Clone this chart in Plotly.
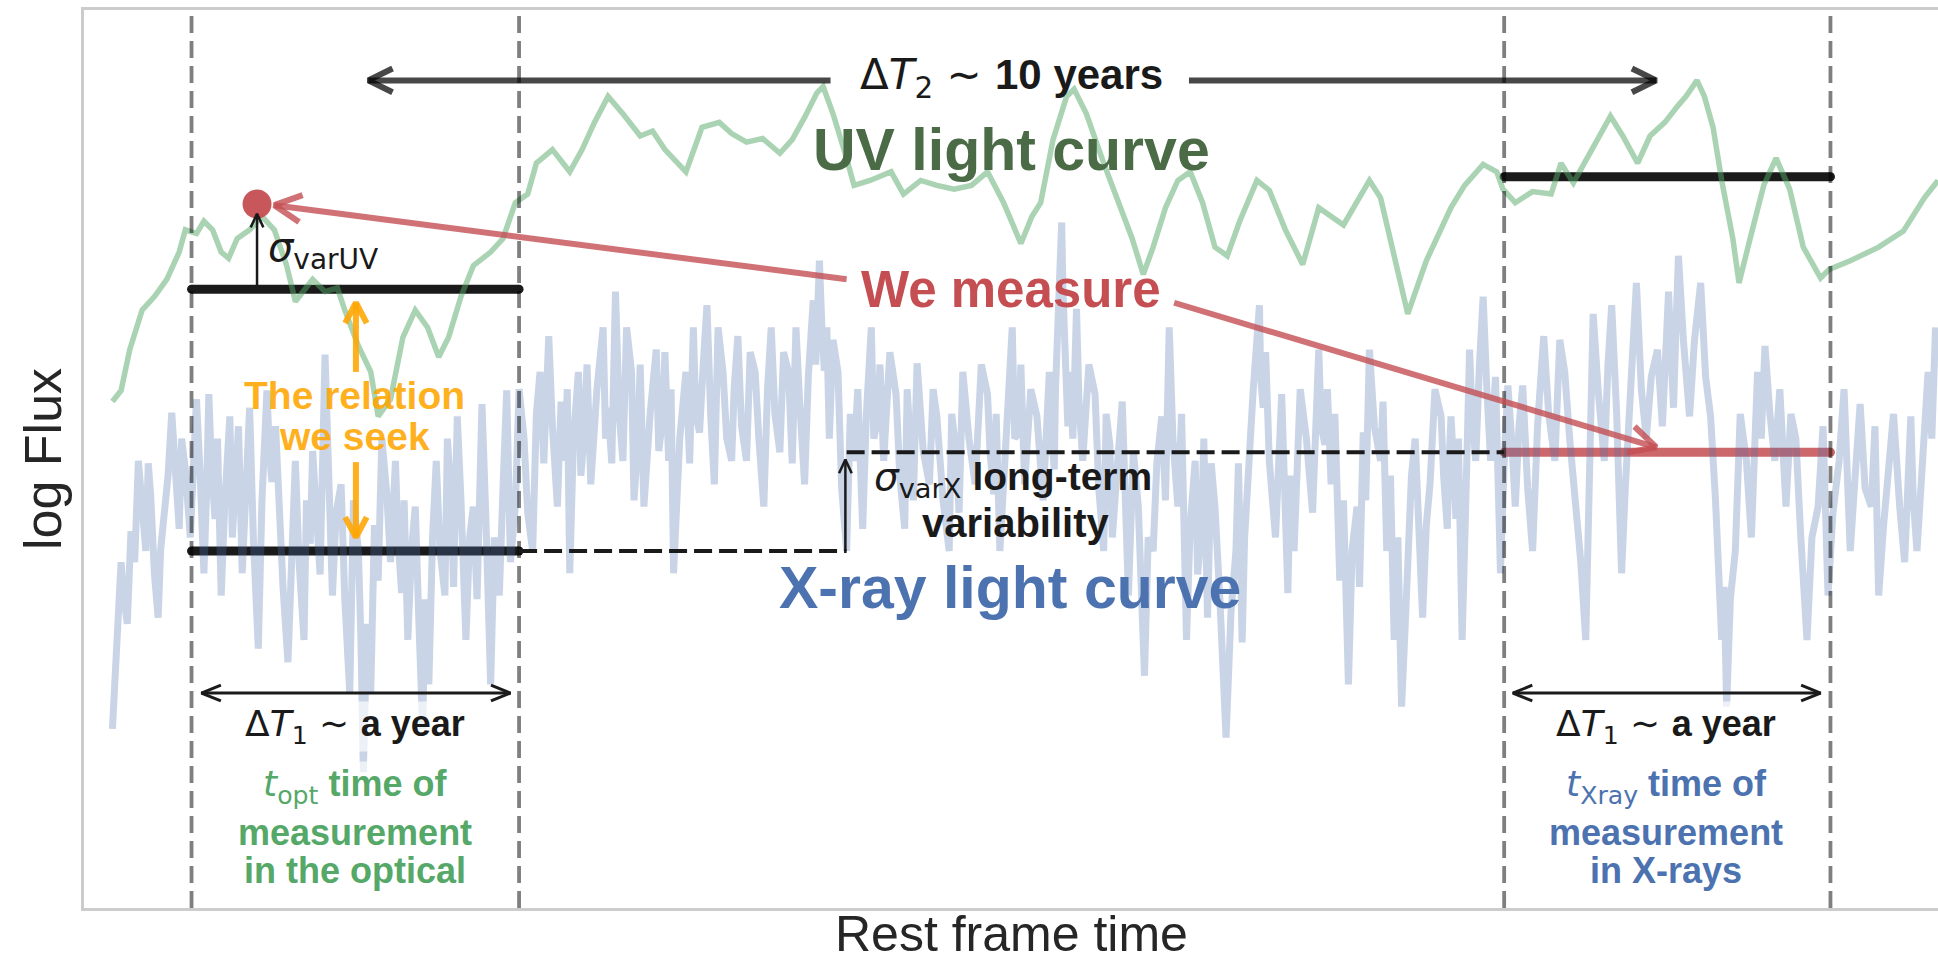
import numpy as np
import plotly.graph_objects as go

# ---------------- data (arbitrary time units / arbitrary log-flux units) ----------------
uv_time = [23, 30, 37, 47, 57, 67, 77, 82, 91, 97,
           104, 111, 117, 124, 134, 144, 154, 164, 171, 185,
           195, 205, 211, 222, 232, 238, 248, 258, 268, 278,
           287, 295, 305, 315, 329, 339, 349, 359, 366, 379,
           393, 403, 413, 424, 436, 450, 460, 470, 487, 500,
           514, 524, 536, 549, 563, 573, 583, 593, 598, 606,
           617, 623, 636, 653, 663, 677, 690, 704, 718, 731,
           744, 758, 767, 774, 784, 795, 801, 811, 825, 838,
           848, 857, 865, 875, 885, 895, 905, 915, 925, 935,
           949, 959, 972, 986, 999, 1019, 1040, 1049, 1071, 1086,
           1106, 1117, 1132, 1143, 1148, 1158, 1172, 1187, 1195, 1205,
           1222, 1235, 1245, 1257, 1267, 1279, 1290, 1296, 1305, 1311,
           1318, 1325, 1334, 1339, 1348, 1359, 1369, 1380, 1391, 1405,
           1412, 1429, 1452, 1472, 1489, 1500]
uv_flux = [410, 419, 452, 484, 495, 509, 531, 549, 546, 556,
           549, 531, 526, 542, 549, 560, 549, 520, 491, 509,
           499, 502, 484, 455, 434, 398, 412, 462, 484, 470,
           446, 462, 495, 520, 531, 542, 571, 578, 603, 614,
           596, 614, 636, 657, 643, 625, 629, 614, 596, 632,
           636, 627, 620, 623, 611, 622, 640, 660, 665, 643,
           607, 585, 589, 596, 578, 589, 585, 582, 585, 596,
           571, 538, 560, 571, 622, 657, 663, 643, 603, 567,
           542, 513, 535, 567, 589, 596, 571, 535, 528, 556,
           589, 581, 549, 521, 567, 553, 589, 575, 481, 524,
           567, 585, 602, 596, 582, 571, 580, 578, 603, 587,
           618, 641, 625, 603, 625, 636, 650, 657, 670, 657,
           632, 589, 542, 506, 542, 585, 607, 582, 535, 510,
           517, 524, 535, 548, 575, 589]

# X-ray light curve: main read-off points ...
xray_time = [23, 27, 32, 38, 44, 50, 54, 60, 65, 71,
             77, 82, 91, 97, 101, 106, 111, 118, 122, 128,
             134, 141, 148, 152, 158, 165, 171, 178, 183, 188,
             195, 201, 208, 215, 222, 226, 232, 238, 245, 252,
             257, 262, 268, 274, 279, 285, 292, 297, 302, 309,
             315, 322, 329, 336, 342, 349, 356, 363, 369, 376,
             383, 389, 393, 400, 404, 410, 420, 424, 430, 436,
             443, 448, 453, 463, 468, 473, 477, 487, 493, 498,
             504, 510, 517, 524, 529, 536, 543, 550, 556, 563,
             570, 576, 583, 590, 595, 599, 603, 610, 617, 623,
             630, 637, 642, 647, 657, 664, 668, 674, 684, 690,
             700, 705, 711, 721, 731, 736, 741, 751, 756, 761,
             771, 781, 785, 788, 791, 794, 798, 803, 808, 818,
             825, 830, 835, 845, 853, 858, 865, 872, 878, 885,
             892, 899, 904, 909, 915, 924, 932, 937, 942, 951,
             954, 959, 969, 974, 979, 989, 999, 1004, 1009, 1016,
             1023, 1030, 1035, 1040, 1049, 1054, 1060, 1066, 1072, 1077,
             1083, 1089, 1098, 1103, 1106, 1110, 1115, 1121, 1126, 1132,
             1138, 1146, 1152, 1158, 1164, 1172, 1181, 1190, 1198, 1207,
             1215, 1221, 1230, 1236, 1244, 1250, 1256, 1264, 1273, 1282,
             1286, 1290, 1299, 1308, 1316, 1325, 1329, 1336, 1345, 1354,
             1360, 1368, 1377, 1385, 1394, 1403, 1411, 1420, 1429, 1437,
             1446, 1452, 1460, 1469, 1478, 1483, 1492, 1498]
xray_flux = [145, 215, 253, 305, 362, 289, 333, 235, 315, 401,
             307, 355, 412, 271, 416, 315, 253, 398, 335, 271,
             405, 210, 419, 345, 307, 199, 362, 217, 295, 325,
             448, 253, 343, 174, 289, 110, 175, 265, 335, 362,
             255, 217, 325, 145, 181, 362, 253, 335, 398, 217,
             325, 408, 181, 253, 419, 325, 380, 289, 434, 463,
             325, 362, 271, 434, 375, 343, 470, 405, 499, 362,
             434, 375, 325, 452, 395, 362, 271, 434, 470, 385,
             488, 343, 434, 362, 463, 362, 434, 325, 470, 369,
             434, 470, 343, 492, 524, 435, 380, 434, 289, 362,
             307, 470, 395, 362, 416, 307, 385, 441, 343, 398,
             289, 375, 434, 343, 416, 335, 289, 470, 385, 343,
             398, 434, 355, 470, 555, 455, 434, 485, 362, 416,
             289, 375, 343, 253, 325, 188, 289, 398, 470, 325,
             217, 362, 305, 235, 325, 138, 289, 215, 362, 488,
             405, 362, 416, 255, 289, 380, 452, 375, 343, 265,
             181, 325, 385, 452, 362, 289, 217, 163, 289, 380,
             235, 343, 398, 307, 398, 315, 217, 452, 362, 495,
             362, 271, 423, 325, 423, 289, 463, 362, 434, 325,
             217, 481, 362, 488, 271, 398, 506, 380, 452, 499,
             405, 528, 398, 506, 398, 217, 163, 289, 362, 434,
             455, 362, 325, 380, 217, 325, 253, 362, 289, 408,
             325, 253, 362, 325, 398, 289, 434, 470]
# ... and the fast flickering in between them
xray_time_fine = [25, 30, 35, 41, 47, 52, 57, 62, 68, 74,
                  79, 86, 94, 99, 103, 108, 114, 120, 125, 131,
                  137, 144, 150, 155, 161, 168, 174, 180, 185, 191,
                  198, 204, 211, 218, 224, 229, 235, 241, 248, 254,
                  259, 265, 271, 276, 282, 288, 294, 299, 305, 312,
                  318, 325, 332, 339, 345, 352, 359, 366, 372, 379,
                  386, 391, 396, 402, 407, 415, 422, 427, 433, 439,
                  445, 450, 458, 465, 470, 475, 482, 490, 495, 501,
                  507, 513, 520, 526, 532, 539, 546, 553, 559, 566,
                  573, 579, 586, 592, 597, 601, 606, 613, 620, 626,
                  633, 639, 644, 652, 660, 666, 671, 679, 687, 695,
                  702, 708, 716, 726, 733, 738, 746, 753, 758, 766,
                  776, 783, 786, 789, 792, 796, 800, 805, 813, 821,
                  827, 832, 840, 849, 855, 861, 868, 875, 881, 888,
                  895, 901, 906, 912, 919, 928, 934, 939, 946, 952,
                  956, 964, 971, 976, 984, 994, 1001, 1006, 1012, 1019,
                  1026, 1032, 1037, 1044, 1051, 1057, 1063, 1069, 1074, 1080,
                  1086, 1093, 1100, 1104, 1108, 1112, 1118, 1123, 1129, 1135,
                  1142, 1149, 1155, 1161, 1168, 1176, 1185, 1194, 1202, 1211,
                  1218, 1225, 1233, 1240, 1247, 1253, 1260, 1268, 1277, 1284,
                  1288, 1294, 1303, 1312, 1320, 1327, 1332, 1340, 1349, 1357,
                  1364, 1372, 1381, 1389, 1398, 1407, 1415, 1424, 1433, 1441,
                  1449, 1456, 1464, 1473, 1480, 1487, 1495]
xray_flux_fine = [190, 280, 230, 280, 320, 360, 270, 290, 350, 340,
                  380, 300, 350, 330, 360, 380, 330, 300, 390, 340,
                  300, 330, 370, 390, 260, 300, 280, 330, 370, 270,
                  350, 320, 250, 330, 220, 230, 310, 380, 280, 300,
                  330, 290, 230, 250, 300, 290, 380, 260, 330, 300,
                  250, 320, 300, 340, 280, 420, 320, 400, 360, 390,
                  410, 420, 380, 350, 440, 420, 380, 360, 400, 470,
                  330, 440, 400, 370, 450, 420, 380, 360, 400, 440,
                  400, 470, 380, 420, 390, 450, 380, 420, 400, 450,
                  360, 410, 430, 440, 470, 470, 460, 340, 400, 420,
                  400, 380, 440, 450, 350, 420, 330, 370, 420, 330,
                  400, 320, 380, 440, 370, 400, 390, 380, 440, 420,
                  330, 380, 420, 500, 500, 390, 380, 410, 440, 340,
                  400, 300, 410, 370, 280, 300, 360, 330, 380, 400,
                  310, 270, 380, 360, 250, 240, 360, 300, 420, 430,
                  450, 300, 340, 350, 420, 320, 390, 420, 400, 330,
                  290, 260, 330, 390, 410, 350, 300, 230, 350, 300,
                  310, 420, 350, 350, 360, 380, 330, 400, 440, 420,
                  430, 360, 380, 390, 340, 390, 400, 460, 380, 280,
                  330, 420, 440, 400, 340, 470, 420, 430, 390, 450,
                  470, 460, 460, 430, 330, 260, 250, 400, 300, 380,
                  400, 420, 400, 300, 300, 390, 320, 420, 350, 340,
                  390, 310, 400, 280, 330, 360, 380]

# observation windows (start, end) and the mean levels within them
opt_window = [87, 352]
xray_window = [1149, 1413]
uv_level_opt = 501      # UV mean during optical window
x_level_opt = 289       # X-ray mean during optical window
uv_level_xray = 592     # UV mean during X-ray window
x_level_xray = 369      # X-ray mean during X-ray window
uv_point = [140, 570]   # single UV measurement
sigma_x_time = 617      # where the long-term variability step is marked

# ---------------- geometry ----------------
W, H = 1938, 964
MARGIN = dict(l=84, r=0, t=10, b=56, pad=0)
X_RANGE = [0, 1500]
Y_RANGE = [0, 727]
PX_X = (W - MARGIN['l'] - MARGIN['r']) / (X_RANGE[1] - X_RANGE[0])
PX_Y = (H - MARGIN['t'] - MARGIN['b']) / (Y_RANGE[1] - Y_RANGE[0])

BLACK = '#1a1a1a'
RED = 'rgba(196,78,82,0.8)'
ORANGE = 'rgba(255,165,0,0.88)'
GREEN_TXT = '#55a868'
BLUE_TXT = '#4c72b0'
FONT = 'Liberation Sans'

fig = go.Figure()


def seg(x, y, color, width, dash=None, opacity=1.0, caps=False):
    fig.add_trace(go.Scatter(
        x=x, y=y, mode='lines+markers' if caps else 'lines',
        line=dict(color=color, width=width, dash=dash),
        marker=dict(size=width, color=color) if caps else None,
        opacity=opacity, hoverinfo='skip', showlegend=False,
        connectgaps=False))


def head(tip, tail, length, half_angle):
    dx = (tail[0] - tip[0]) * PX_X
    dy = (tail[1] - tip[1]) * PX_Y
    n = np.hypot(dx, dy)
    ux, uy = dx / n, dy / n
    xs, ys = [], []
    for s in (1, -1):
        a = np.radians(half_angle) * s
        rx = ux * np.cos(a) - uy * np.sin(a)
        ry = ux * np.sin(a) + uy * np.cos(a)
        xs.append(tip[0] + rx * length / PX_X)
        ys.append(tip[1] + ry * length / PX_Y)
    return [xs[0], tip[0], xs[1]], [ys[0], tip[1], ys[1]]


def arrow(tail, tip, color, width, hl, ha, both=False):
    x = [tail[0], tip[0], None]
    y = [tail[1], tip[1], None]
    hx, hy = head(tip, tail, hl, ha)
    x += hx + [None]
    y += hy + [None]
    if both:
        hx, hy = head(tail, tip, hl, ha)
        x += hx
        y += hy
    seg(x, y, color, width)


# combine the two X-ray read-off sets in time order
xr_t = np.array(xray_time + xray_time_fine)
xr_f = np.array(xray_flux + xray_flux_fine)
order = np.argsort(xr_t, kind='stable')
xr_t, xr_f = xr_t[order], xr_f[order]

# mean-level bars (under the light curves)
seg(opt_window, [uv_level_opt] * 2, BLACK, 9, caps=True)
seg(opt_window, [x_level_opt] * 2, BLACK, 9, caps=True)
seg(xray_window, [uv_level_xray] * 2, BLACK, 9, caps=True)
seg(xray_window, [x_level_xray] * 2, '#c44e52', 9, caps=True, opacity=0.85)

# light curves
seg(xr_t, xr_f, 'rgba(76,114,176,0.3)', 7)
seg(uv_time, uv_flux, 'rgba(85,168,104,0.5)', 5.5)

# single UV measurement
fig.add_trace(go.Scatter(x=[uv_point[0]], y=[uv_point[1]], mode='markers',
                         marker=dict(size=29, color='#c44e52', opacity=0.95),
                         hoverinfo='skip', showlegend=False))

# window edges
for t in opt_window + xray_window:
    seg([t, t], Y_RANGE, 'rgba(0,0,0,0.5)', 3.8, dash='17px,8px')

# long-term variability guides
seg([opt_window[1], sigma_x_time], [x_level_opt] * 2, BLACK, 4, dash='18px,7px')
seg([sigma_x_time, xray_window[0]], [x_level_xray] * 2, BLACK, 4, dash='18px,7px')

# arrows
DT2 = 'rgba(0,0,0,0.72)'
arrow([604, 670], [230, 670], DT2, 6, 27, 26)
arrow([894, 670], [1272, 670], DT2, 6, 27, 26)
arrow([617, 509], [154, 569], RED, 6, 30, 27)
arrow([882, 490], [1272, 373], RED, 6, 30, 27)
arrow([220, 434], [220, 490], ORANGE, 6, 23, 28)
arrow([220, 361], [220, 300], ORANGE, 6, 23, 28)
arrow([uv_point[0], uv_level_opt], [uv_point[0], 562], BLACK, 2.5, 15, 25)
arrow([sigma_x_time - 1, x_level_opt], [sigma_x_time - 1, 363], BLACK, 2.5, 15, 25)
arrow([opt_window[0] + 8, 174], [opt_window[1] - 7, 174], BLACK, 3, 21, 22, both=True)
arrow([xray_window[0] + 7, 174], [xray_window[1] - 8, 174], BLACK, 3, 21, 22, both=True)


# ---------------- text ----------------
def math(s, size):
    return f'<span style="font-family:DejaVu Sans;font-size:{size}px">{s}</span>'


def label(t, f, text, size, color, xanchor='center', bg=None):
    fig.add_annotation(x=t, y=f, xref='x', yref='y', text=text, showarrow=False,
                       font=dict(family=FONT, size=size, color=color),
                       xanchor=xanchor, yanchor='middle',
                       bgcolor=bg if bg else 'rgba(0,0,0,0)', borderpad=1)


label(750, 672, math('Δ<i>T</i><sub>2</sub> ∼ ', 42) + '<b>10 years</b>', 42, BLACK)
label(750, 614, '<b>UV light curve</b>', 59, '#4a6b46')
label(750, 501, '<b>We measure</b>', 51, '#c44e52')
label(749, 259, '<b>X-ray light curve</b>', 59, BLUE_TXT)
label(147, 533, math('<i>σ</i><sub>varUV</sub>', 40), 40, BLACK, xanchor='left')
label(219, 415, '<b>The relation</b>', 39, ORANGE)
label(219, 382, '<b>we seek</b>', 39, ORANGE)
label(752, 347, math('<i>σ</i><sub>varX</sub>', 39) + ' <b>long-term</b>', 39, BLACK)
label(754, 312, '<b>variability</b>', 40, BLACK)

WHITE_BG = 'rgba(255,255,255,0.65)'
for tc in (219, 1280):
    label(tc, 147, math('Δ<i>T</i><sub>1</sub> ∼ ', 36) + '<b>a year</b>', 36, BLACK, bg=WHITE_BG)
label(219, 98, math('<i>t</i><sub>opt</sub>', 36) + ' <b>time of</b>', 36, GREEN_TXT, bg=WHITE_BG)
label(219, 61, '<b>measurement</b>', 36, GREEN_TXT, bg=WHITE_BG)
label(219, 30, '<b>in the optical</b>', 36, GREEN_TXT, bg=WHITE_BG)
label(1280, 98, math('<i>t</i><sub>Xray</sub>', 36) + ' <b>time of</b>', 36, BLUE_TXT, bg=WHITE_BG)
label(1280, 61, '<b>measurement</b>', 36, BLUE_TXT, bg=WHITE_BG)
label(1280, 30, '<b>in X-rays</b>', 36, BLUE_TXT, bg=WHITE_BG)

# axis titles
fig.add_annotation(x=(43 - MARGIN['l']) / (W - MARGIN['l']), y=0.5, xref='paper', yref='paper',
                   text='log Flux', textangle=-90, showarrow=False,
                   font=dict(family=FONT, size=52, color='#262626'),
                   xanchor='center', yanchor='middle')
fig.add_annotation(x=0.5, y=-26 / (H - MARGIN['t'] - MARGIN['b']), xref='paper', yref='paper',
                   text='Rest frame time', showarrow=False,
                   font=dict(family=FONT, size=50, color='#262626'),
                   xanchor='center', yanchor='middle', borderpad=0)

axis_common = dict(showgrid=False, zeroline=False, showticklabels=False, ticks='',
                   showline=True, linecolor='#cccccc', linewidth=2.5, fixedrange=True)
fig.update_layout(
    width=W, height=H, margin=MARGIN,
    paper_bgcolor='white', plot_bgcolor='white',
    font=dict(family=FONT),
    xaxis=dict(range=X_RANGE, mirror=True, **axis_common),
    yaxis=dict(range=Y_RANGE, mirror=False, **axis_common),
    showlegend=False,
)

fig.write_html("out.html", include_plotlyjs=True, full_html=True,
               config={'displayModeBar': False},
               post_script="document.body.style.margin='0';document.body.style.overflow='hidden';")
